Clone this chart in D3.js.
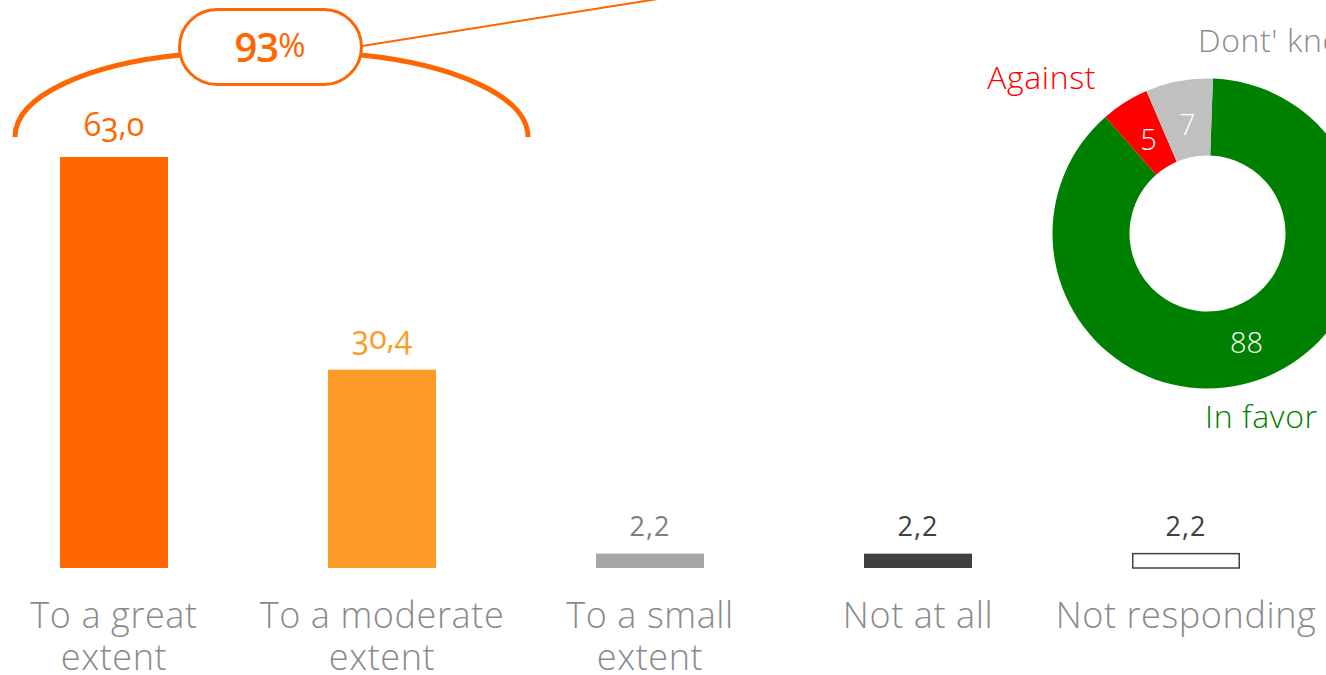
<!DOCTYPE html>
<html>
<head>
<meta charset="utf-8">
<script src="https://cdn.jsdelivr.net/npm/d3@7/dist/d3.min.js"></script>
<style>
  html, body { margin: 0; padding: 0; background: #fff; }
  svg { display: block; }
  .cat { font-family: "Open Sans", sans-serif; font-weight: 300; fill: #8a8a8a; }
  .val { font-family: "Open Sans", sans-serif; }
  .onum { font-variant-numeric: oldstyle-nums; font-feature-settings: "onum" 1; }
</style>
</head>
<body>
<svg id="chart" width="1326" height="675"></svg>
<script>
// Extent of agreement
const categories = [["To a great", "extent"], ["To a moderate", "extent"], ["To a small", "extent"], ["Not at all"], ["Not responding"]];
const values = [63.0, 30.4, 2.2, 2.2, 2.2];
const valueLabels = ["63,0", "30,4", "2,2", "2,2", "2,2"];
const barFill = ["#ff6600", "#fd9a28", "#a6a6a6", "#404040", "#ffffff"];
const barStroke = ["none", "none", "none", "none", "#404040"];
const labelColor = ["#ff6600", "#fd9a28", "#808080", "#404040", "#404040"];
const oldstyle = [true, true, false, false, false];
const totalLabel = "93";

// Position on the question
const pieLabels = ["In favor", "Against", "Dont' know"];
const pieValues = [88, 5, 7];
const pieColors = ["#008000", "#ff0000", "#c0c0c0"];
const pieTextColors = ["#008000", "#ff0000", "#8c8c8c"];

const svg = d3.select("#chart");
const orange = "#ff6600";

// ---- bars ----
const x = d3.scaleBand()
  .domain(d3.range(values.length))
  .range([-20, 1320])
  .paddingInner(0.597)
  .paddingOuter(0.2985);
const y = d3.scaleLinear().domain([0, 63]).range([568, 157]);

const bars = svg.append("g");
bars.selectAll("rect")
  .data(values)
  .join("rect")
  .attr("x", (d, i) => x(i) + (barStroke[i] !== "none" ? 0.75 : 0))
  .attr("y", d => y(d))
  .attr("width", (d, i) => x.bandwidth() - (barStroke[i] !== "none" ? 1.5 : 0))
  .attr("height", d => y(0) - y(d))
  .attr("fill", (d, i) => barFill[i])
  .attr("stroke", (d, i) => barStroke[i])
  .attr("stroke-width", 1.5);

bars.selectAll("text.val")
  .data(values)
  .join("text")
  .attr("class", (d, i) => "val" + (oldstyle[i] ? " onum" : ""))
  .attr("x", (d, i) => x(i) + x.bandwidth() / 2)
  .attr("y", (d, i) => y(d) - (oldstyle[i] ? 21 : 18))
  .attr("text-anchor", "middle")
  .attr("font-size", (d, i) => oldstyle[i] ? 32 : 27)
  .attr("font-weight", (d, i) => oldstyle[i] ? 400 : 500)
  .attr("letter-spacing", (d, i) => oldstyle[i] ? 0 : 1)
  .attr("fill", (d, i) => labelColor[i])
  .text((d, i) => valueLabels[i]);

// category axis labels
const cats = svg.append("g");
categories.forEach((lines, i) => {
  const t = cats.append("text")
    .attr("class", "cat")
    .attr("text-anchor", "middle")
    .attr("font-size", 36)
    .attr("letter-spacing", 0.6)
    .attr("x", x(i) + x.bandwidth() / 2)
    .attr("y", 628);
  lines.forEach((ln, k) => {
    t.append("tspan")
      .attr("x", x(i) + x.bandwidth() / 2)
      .attr("dy", k === 0 ? 0 : 42)
      .text(ln);
  });
});

// ---- total bracket over the first two bars ----
const ann = svg.append("g");
ann.append("path")
  .attr("d", "M15,137 C15,95 90,64 180,55")
  .attr("fill", "none").attr("stroke", orange).attr("stroke-width", 5);
ann.append("path")
  .attr("d", "M361,55 C450,64 528,95 528,137")
  .attr("fill", "none").attr("stroke", orange).attr("stroke-width", 5);
ann.append("line")
  .attr("x1", 362).attr("y1", 46).attr("x2", 664).attr("y2", -2)
  .attr("stroke", orange).attr("stroke-width", 2);
ann.append("rect")
  .attr("x", 179.5).attr("y", 9.5).attr("width", 182).attr("height", 75)
  .attr("rx", 37.5).attr("ry", 37.5)
  .attr("fill", "#fff").attr("stroke", orange).attr("stroke-width", 3);
const tot = ann.append("text")
  .attr("x", 270).attr("y", 62)
  .attr("text-anchor", "middle")
  .attr("fill", orange)
  .attr("font-family", "'Open Sans', sans-serif");
tot.append("tspan").attr("font-size", 40).attr("font-weight", 600).attr("letter-spacing", -1).text(totalLabel);
tot.append("tspan").attr("font-size", 33).attr("font-weight", 400).attr("dy", -5).text("%");

// ---- donut ----
const cx = 1207.5, cy = 233.5, rOuter = 155, rInner = 78;
const start = 2 * Math.PI / 180;
const pie = d3.pie().sort(null).startAngle(start).endAngle(start + 2 * Math.PI);
const arcs = pie(pieValues);
const arc = d3.arc().innerRadius(rInner).outerRadius(rOuter);
const donut = svg.append("g").attr("transform", `translate(${cx},${cy})`);
donut.selectAll("path")
  .data(arcs)
  .join("path")
  .attr("d", arc)
  .attr("fill", (d, i) => pieColors[i]);

const labelArc = d3.arc().innerRadius(rInner).outerRadius(rOuter - 12);
donut.selectAll("text.in")
  .data(arcs)
  .join("text")
  .attr("class", "in")
  .attr("transform", d => {
    const c = (d.data > 50 ? arc : labelArc).centroid(d);
    return `translate(${c[0]},${c[1]})`;
  })
  .attr("dy", "0.35em")
  .attr("text-anchor", "middle")
  .attr("fill", "#fff")
  .attr("font-family", "'Open Sans', sans-serif")
  .attr("font-weight", 300)
  .attr("font-size", 29)
  .text(d => d.data);

// outside slice names
const outPos = [[1205, 428, "start"], [1096, 89, "end"], [1198, 52, "start"]];
svg.append("g").selectAll("text")
  .data(pieLabels)
  .join("text")
  .attr("x", (d, i) => outPos[i][0])
  .attr("y", (d, i) => outPos[i][1])
  .attr("text-anchor", (d, i) => outPos[i][2])
  .attr("fill", (d, i) => pieTextColors[i])
  .attr("font-family", "'Open Sans', sans-serif")
  .attr("font-weight", 300)
  .attr("font-size", 32)
  .attr("letter-spacing", 0.6)
  .text(d => d);
</script>
</body>
</html>
